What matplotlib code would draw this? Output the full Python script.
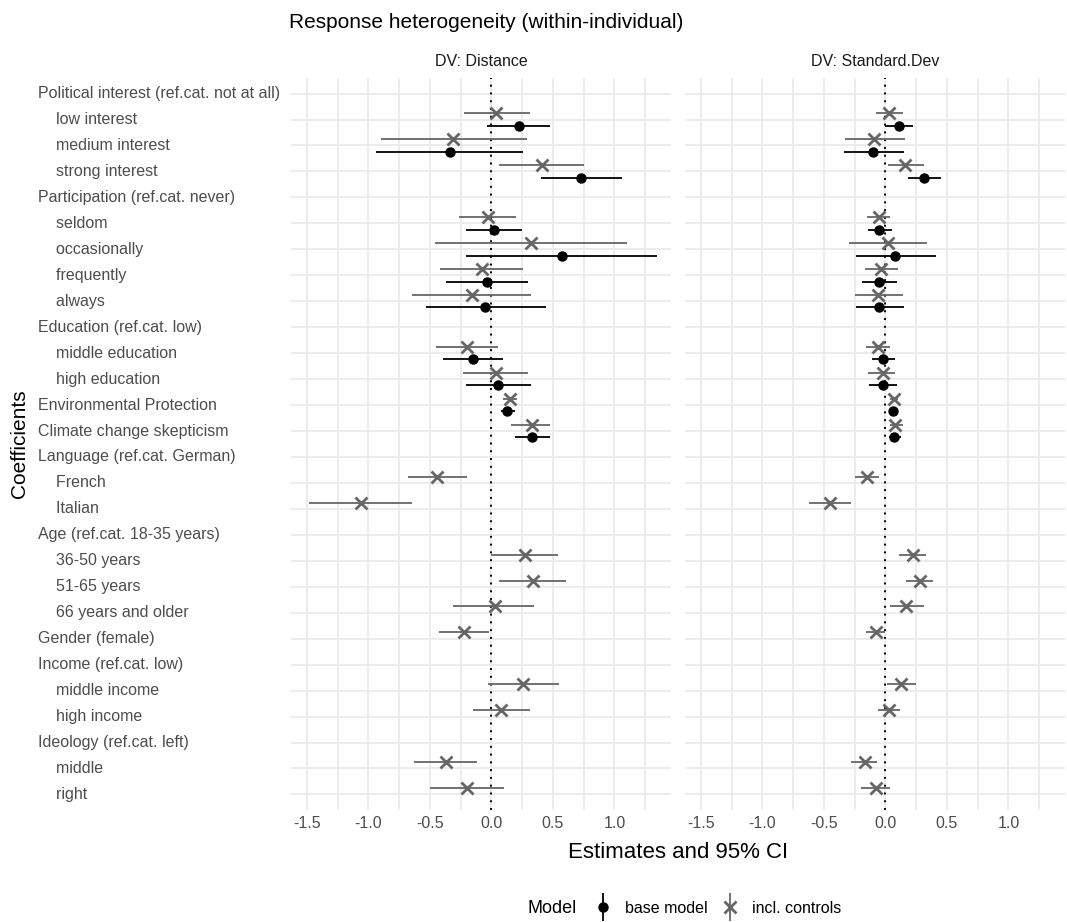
import numpy as np
import matplotlib.pyplot as plt
from matplotlib.lines import Line2D
from matplotlib.legend_handler import HandlerTuple
from matplotlib.transforms import blended_transform_factory

plt.rcParams['font.family'] = ['Liberation Sans', 'DejaVu Sans']

nan = np.nan

coefs = [
    "Political interest (ref.cat. not at all)",
    "    low interest",
    "    medium interest",
    "    strong interest",
    "Participation (ref.cat. never)",
    "    seldom",
    "    occasionally",
    "    frequently",
    "    always",
    "Education (ref.cat. low)",
    "    middle education",
    "    high education",
    "Environmental Protection",
    "Climate change skepticism",
    "Language (ref.cat. German)",
    "    French",
    "    Italian",
    "Age (ref.cat. 18-35 years)",
    "    36-50 years",
    "    51-65 years",
    "    66 years and older",
    "Gender (female)",
    "Income (ref.cat. low)",
    "    middle income",
    "    high income",
    "Ideology (ref.cat. left)",
    "    middle",
    "    right",
]

# DV: Distance - base model
dist_base = [nan, 0.22, -0.34, 0.73, nan, 0.02, 0.57, -0.04, -0.05, nan, -0.15, 0.05, 0.13, 0.33,
             nan, nan, nan, nan, nan, nan, nan, nan, nan, nan, nan, nan, nan, nan]
dist_base_lo = [nan, -0.04, -0.94, 0.40, nan, -0.21, -0.21, -0.37, -0.53, nan, -0.39, -0.21, 0.08, 0.19,
                nan, nan, nan, nan, nan, nan, nan, nan, nan, nan, nan, nan, nan, nan]
dist_base_hi = [nan, 0.48, 0.26, 1.06, nan, 0.25, 1.35, 0.30, 0.44, nan, 0.09, 0.32, 0.19, 0.48,
                nan, nan, nan, nan, nan, nan, nan, nan, nan, nan, nan, nan, nan, nan]

# DV: Distance - incl. controls
dist_ctrl = [nan, 0.04, -0.31, 0.41, nan, -0.03, 0.32, -0.08, -0.16, nan, -0.20, 0.04, 0.15, 0.33,
             nan, -0.44, -1.06, nan, 0.27, 0.34, 0.03, -0.22, nan, 0.26, 0.08, nan, -0.37, -0.20]
dist_ctrl_lo = [nan, -0.22, -0.90, 0.06, nan, -0.26, -0.46, -0.42, -0.65, nan, -0.45, -0.23, 0.09, 0.16,
                nan, -0.68, -1.48, nan, 0.00, 0.06, -0.31, -0.43, nan, -0.03, -0.15, nan, -0.63, -0.50]
dist_ctrl_hi = [nan, 0.31, 0.29, 0.75, nan, 0.20, 1.10, 0.26, 0.32, nan, 0.05, 0.30, 0.21, 0.48,
                nan, -0.20, -0.65, nan, 0.54, 0.61, 0.35, -0.02, nan, 0.55, 0.31, nan, -0.12, 0.10]

# DV: Standard.Dev - base model
sd_base = [nan, 0.11, -0.10, 0.31, nan, -0.05, 0.08, -0.05, -0.05, nan, -0.02, -0.02, 0.06, 0.07,
           nan, nan, nan, nan, nan, nan, nan, nan, nan, nan, nan, nan, nan, nan]
sd_base_lo = [nan, 0.00, -0.34, 0.18, nan, -0.14, -0.24, -0.19, -0.24, nan, -0.11, -0.13, 0.04, 0.03,
              nan, nan, nan, nan, nan, nan, nan, nan, nan, nan, nan, nan, nan, nan]
sd_base_hi = [nan, 0.22, 0.15, 0.45, nan, 0.05, 0.41, 0.09, 0.15, nan, 0.08, 0.09, 0.09, 0.13,
              nan, nan, nan, nan, nan, nan, nan, nan, nan, nan, nan, nan, nan, nan]

# DV: Standard.Dev - incl. controls
sd_ctrl = [nan, 0.03, -0.09, 0.16, nan, -0.05, 0.02, -0.04, -0.06, nan, -0.06, -0.02, 0.07, 0.08,
           nan, -0.15, -0.45, nan, 0.22, 0.28, 0.17, -0.08, nan, 0.13, 0.03, nan, -0.17, -0.08]
sd_ctrl_lo = [nan, -0.08, -0.33, 0.02, nan, -0.15, -0.30, -0.17, -0.25, nan, -0.16, -0.14, 0.04, 0.04,
              nan, -0.25, -0.62, nan, 0.11, 0.17, 0.04, -0.16, nan, 0.01, -0.06, nan, -0.28, -0.20]
sd_ctrl_hi = [nan, 0.14, 0.16, 0.31, nan, 0.04, 0.34, 0.10, 0.14, nan, 0.04, 0.08, 0.10, 0.14,
              nan, -0.05, -0.28, nan, 0.33, 0.39, 0.31, 0.00, nan, 0.25, 0.12, nan, -0.07, 0.04]

panels = [
    ("DV: Distance", dist_base, dist_base_lo, dist_base_hi, dist_ctrl, dist_ctrl_lo, dist_ctrl_hi),
    ("DV: Standard.Dev", sd_base, sd_base_lo, sd_base_hi, sd_ctrl, sd_ctrl_lo, sd_ctrl_hi),
]

x_ticks = [-1.5, -1.0, -0.5, 0.0, 0.5, 1.0]
x_tick_labels = ["-1.5", "-1.0", "-0.5", "0.0", "0.5", "1.0"]
x_minor = [-1.25, -0.75, -0.25, 0.25, 0.75, 1.25]

W, H = 1067, 922
fig = plt.figure(figsize=(W / 100, H / 100), dpi=100)


def rect(x0, y0, x1, y1):
    return [x0 / W, 1 - y1 / H, (x1 - x0) / W, (y1 - y0) / H]


base_col = "black"
ctrl_col = "#666666"
grid_col = "#EBEBEB"
text_col = "#4D4D4D"
small = 11.5
dodge = 0.24
n = len(coefs)
ypos = np.arange(n)

panel_px = [(291, 671), (685, 1065)]
axes = []
for (x0, x1), (strip, b, blo, bhi, c, clo, chi) in zip(panel_px, panels):
    ax = fig.add_axes(rect(x0, 78, x1, 810))
    axes.append(ax)
    ax.set_xlim(-1.63, 1.46)
    ax.set_ylim(n - 1 + 0.6, -0.6)
    for s in ax.spines.values():
        s.set_visible(False)
    ax.set_xticks(x_ticks)
    ax.set_xticklabels(x_tick_labels)
    ax.set_xticks(x_minor, minor=True)
    ax.set_yticks(ypos)
    ax.set_yticklabels([])
    ax.tick_params(which='both', length=0)
    ax.tick_params(axis='x', labelsize=small, labelcolor=text_col, pad=4)
    ax.grid(True, which='major', color=grid_col, lw=1.3)
    ax.grid(True, which='minor', axis='x', color=grid_col, lw=1.3)
    ax.set_axisbelow(True)
    ax.axvline(0, color='black', ls=(0, (1, 3)), lw=1.4, zorder=1)

    b = np.array(b); blo = np.array(blo); bhi = np.array(bhi)
    c = np.array(c); clo = np.array(clo); chi = np.array(chi)
    yc = ypos - dodge
    yb = ypos + dodge
    ax.hlines(yc, clo, chi, color=ctrl_col, lw=1.3, zorder=2)
    ax.plot(c, yc, 'x', color=ctrl_col, ms=8, mew=2, zorder=3)
    ax.hlines(yb, blo, bhi, color=base_col, lw=1.3, zorder=2)
    ax.plot(b, yb, 'o', color=base_col, ms=6.5, zorder=3)

    fig.text((x0 + x1) / 2 / W, 1 - 62 / H, strip, ha='center', va='center',
             fontsize=small, color='#1A1A1A')

# y labels (left aligned, on first panel)
tr = blended_transform_factory(fig.transFigure, axes[0].transData)
for i, lab in enumerate(coefs):
    fig.text(38 / W, i, lab, transform=tr, ha='left', va='center',
             fontsize=small, color=text_col)

fig.text(289 / W, 1 - 22 / H, "Response heterogeneity (within-individual)",
         ha='left', va='center', fontsize=15, color='black')
fig.text(678 / W, 1 - 852 / H, "Estimates and 95% CI", ha='center', va='center',
         fontsize=16, color='black')
fig.text(20 / W, 1 - 444 / H, "Coefficients", ha='center', va='center',
         rotation=90, fontsize=15, color='black')

# legend
fig.text(577 / W, 1 - 908 / H, "Model", ha='right', va='center', fontsize=13, color='black')
h_base = (Line2D([], [], marker='|', color=base_col, ms=20, mew=1.3, ls='none'),
          Line2D([], [], marker='o', color=base_col, ms=6.5, ls='none'))
h_ctrl = (Line2D([], [], marker='|', color=ctrl_col, ms=20, mew=1.3, ls='none'),
          Line2D([], [], marker='x', color=ctrl_col, ms=8, mew=2, ls='none'))
fig.legend([h_base, h_ctrl], ["base model", "incl. controls"],
           handler_map={tuple: HandlerTuple(ndivide=1)},
           loc='center left', bbox_to_anchor=(593 / W, 1 - 908 / H), ncol=2,
           frameon=False, fontsize=small, handlelength=1.2, handletextpad=0.78,
           columnspacing=0.84, borderaxespad=0, borderpad=0)

fig.savefig("out.png", dpi=100)
